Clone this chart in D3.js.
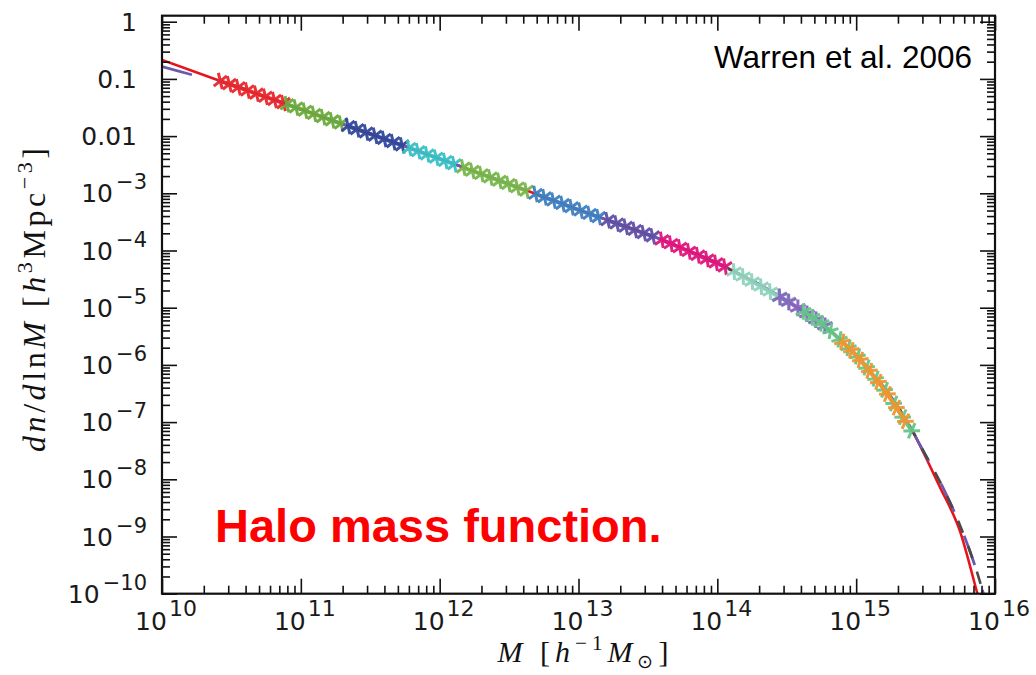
<!DOCTYPE html>
<html>
<head>
<meta charset="utf-8">
<script src="https://cdn.jsdelivr.net/npm/d3@7"></script>
<style>
  body { margin: 0; background: #fff; }
  svg { display: block; }
</style>
</head>
<body>
<svg id="chart" width="1036" height="675"></svg>
<script>
// Values: log10 M [h^-1 Msun] and log10 dn/dlnM [h^3 Mpc^-3]

// Warren et al. fit (solid red)
const fitLogM = [10.0, 10.42, 10.99, 11.5, 12.04, 12.69, 13.05, 13.57, 14.07, 14.52, 14.77, 15.0, 15.2, 15.41, 15.6, 15.75, 15.87, 15.93];
const fitLogN = [-0.668, -1.035, -1.524, -1.96, -2.431, -3.007, -3.33, -3.784, -4.298, -4.909, -5.31, -5.834, -6.41, -7.178, -8.121, -8.923, -9.97, -10.5];

// second fit (purple long dash)
const altLogM = [10.0, 10.22, 10.42, 10.99, 11.5, 12.04, 12.69, 13.05, 13.57, 14.07, 14.52, 14.77, 15.0, 15.2, 15.41, 15.46, 15.62, 15.73, 15.87, 15.94];
const altLogN = [-0.785, -0.93, -1.045, -1.524, -1.96, -2.431, -3.007, -3.33, -3.784, -4.298, -4.909, -5.31, -5.83, -6.39, -7.17, -7.4, -8.12, -8.7, -9.62, -10.2];

// third curve (black short dash), only seen in the tail
const dashLogM = [13.9, 14.52, 15.0, 15.2, 15.41, 15.46, 15.62, 15.73, 15.87, 15.94];
const dashLogN = [-4.124, -4.909, -5.83, -6.39, -7.17, -7.4, -8.12, -8.7, -9.62, -10.2];

// simulation boxes, one colour each
const simColors = ['#e8262c', '#6aab3c', '#30479b', '#37c0c6', '#77b74b', '#3e7fc0',
                   '#5f50a6', '#e0157d', '#8ed3bd', '#8466c0', '#66c68a', '#f29530'];
const simLogM = [
  [10.42, 10.485, 10.55, 10.615, 10.68, 10.745, 10.81, 10.875],
  [10.9, 10.965, 11.03, 11.095, 11.16, 11.225, 11.29],
  [11.34, 11.405, 11.47, 11.535, 11.6, 11.665, 11.73],
  [11.78, 11.845, 11.91, 11.975, 12.04, 12.105],
  [12.17, 12.235, 12.3, 12.365, 12.43, 12.495, 12.56, 12.625],
  [12.69, 12.755, 12.82, 12.885, 12.95, 13.015, 13.08, 13.145],
  [13.21, 13.275, 13.34, 13.405, 13.47, 13.535],
  [13.6, 13.665, 13.73, 13.795, 13.86, 13.925, 13.99, 14.055],
  [14.12, 14.185, 14.25, 14.315, 14.38, 14.445, 14.51],
  [14.45, 14.515, 14.58, 14.645, 14.71, 14.775],
  [14.62, 14.685, 14.75, 14.815, 14.88, 14.945, 15.01, 15.075, 15.14, 15.205, 15.27, 15.335, 15.4],
  [14.9, 14.965, 15.03, 15.095, 15.16, 15.225, 15.29, 15.355]
];
const simLogN = [
  [-1.037, -1.092, -1.147, -1.202, -1.258, -1.313, -1.368, -1.423],
  [-1.444, -1.499, -1.555, -1.612, -1.668, -1.725, -1.781],
  [-1.824, -1.88, -1.937, -1.993, -2.05, -2.106, -2.163],
  [-2.207, -2.263, -2.32, -2.377, -2.434, -2.491],
  [-2.549, -2.607, -2.665, -2.723, -2.78, -2.838, -2.896, -2.954],
  [-3.011, -3.07, -3.128, -3.186, -3.245, -3.303, -3.36, -3.416],
  [-3.472, -3.528, -3.585, -3.641, -3.697, -3.753],
  [-3.814, -3.881, -3.948, -4.016, -4.083, -4.15, -4.217, -4.285],
  [-4.368, -4.456, -4.544, -4.631, -4.719, -4.807, -4.894],
  [-4.813, -4.901, -5.003, -5.106, -5.21, -5.315],
  [-5.066, -5.17, -5.273, -5.405, -5.553, -5.7, -5.852, -6.045, -6.238, -6.436, -6.674, -6.913, -7.152],
  [-5.598, -5.745, -5.911, -6.104, -6.297, -6.509, -6.747, -6.986]
];

// axis ticks
const xTickExps = [10, 11, 12, 13, 14, 15, 16];
const yTickValues = [1, 0.1, 0.01, 1e-3, 1e-4, 1e-5, 1e-6, 1e-7, 1e-8, 1e-9, 1e-10];
const yTickLabels = [['1', ''], ['0.1', ''], ['0.01', ''], ['10', '\u22123'], ['10', '\u22124'], ['10', '\u22125'],
                     ['10', '\u22126'], ['10', '\u22127'], ['10', '\u22128'], ['10', '\u22129'], ['10', '\u221210']];

const svg = d3.select('#chart');
const plotL = 162, plotR = 995, plotT = 15.7, plotB = 593.7;

const x = d3.scaleLog().domain([1e10, 1e16]).range([plotL, plotR]);
const y = d3.scaleLog().domain([1e-10, Math.pow(10, 0.105)]).range([plotB, plotT]);

svg.append('defs').append('clipPath').attr('id', 'plotclip')
  .append('rect').attr('x', plotL).attr('y', plotT).attr('width', plotR - plotL).attr('height', plotB - plotT);

const plot = svg.append('g').attr('clip-path', 'url(#plotclip)');

const line = d3.line()
  .x(d => x(Math.pow(10, d[0])))
  .y(d => y(Math.pow(10, d[1])))
  .curve(d3.curveMonotoneX);

const zip = (a, b) => a.map((v, i) => [v, b[i]]);

// fit curves
plot.append('path').datum(zip(fitLogM, fitLogN))
  .attr('d', line).attr('fill', 'none')
  .attr('stroke', '#e8141c').attr('stroke-width', 2.6);

plot.append('path').datum(zip(altLogM, altLogN))
  .attr('d', line).attr('fill', 'none')
  .attr('stroke', '#6a5aae').attr('stroke-width', 2.8)
  .attr('stroke-dasharray', '31,26');

plot.append('path').datum(zip(dashLogM, dashLogN))
  .attr('d', line).attr('fill', 'none')
  .attr('stroke', '#4a4a4a').attr('stroke-width', 2.6)
  .attr('stroke-dasharray', '13,14');

// simulation points: crosses strung along the curve
simColors.forEach((col, s) => {
  const pts = zip(simLogM[s], simLogN[s]).map(d => [x(Math.pow(10, d[0])), y(Math.pow(10, d[1]))]);
  const g = plot.append('g').attr('stroke', col).attr('fill', 'none').attr('opacity', 0.95);

  g.append('path')
    .attr('d', d3.line()(pts))
    .attr('stroke-width', 4);

  pts.forEach((p, i) => {
    const a = pts[Math.max(0, i - 1)], b = pts[Math.min(pts.length - 1, i + 1)];
    const ang = Math.atan2(b[1] - a[1], b[0] - a[0]) * 180 / Math.PI;
    g.append('path')
      .attr('transform', `translate(${p[0]},${p[1]}) rotate(${ang})`)
      .attr('d', 'M-4.5,-7L4.5,7M-4.5,7L4.5,-7')
      .attr('stroke-width', 3)
      .attr('stroke-linecap', 'butt');
  });
});

// axes: ticks on all four sides, pointing inward
const majorX = xTickExps.map(e => Math.pow(10, e));
const minorX = [];
xTickExps.slice(0, -1).forEach(e => { for (let k = 2; k <= 9; k++) minorX.push(k * Math.pow(10, e)); });
const majorY = yTickValues;
const minorY = [];
for (let e = -10; e < 0; e++) for (let k = 2; k <= 9; k++) minorY.push(k * Math.pow(10, e));

function drawAxis(axisFn, scale, values, size, transform) {
  const g = svg.append('g').attr('transform', transform)
    .call(axisFn(scale).tickValues(values).tickSize(-size).tickFormat(''));
  g.select('.domain').remove();
  g.selectAll('.tick line').attr('stroke', '#111').attr('stroke-width', 1.6);
}

drawAxis(d3.axisBottom, x, majorX, 15, `translate(0,${plotB})`);
drawAxis(d3.axisBottom, x, minorX, 8, `translate(0,${plotB})`);
drawAxis(d3.axisTop, x, majorX, 15, `translate(0,${plotT})`);
drawAxis(d3.axisTop, x, minorX, 8, `translate(0,${plotT})`);
drawAxis(d3.axisLeft, y, majorY, 15, `translate(${plotL},0)`);
drawAxis(d3.axisLeft, y, minorY, 8, `translate(${plotL},0)`);
drawAxis(d3.axisRight, y, majorY, 15, `translate(${plotR},0)`);
drawAxis(d3.axisRight, y, minorY, 8, `translate(${plotR},0)`);

svg.append('rect')
  .attr('x', plotL).attr('y', plotT).attr('width', plotR - plotL).attr('height', plotB - plotT)
  .attr('fill', 'none').attr('stroke', '#111').attr('stroke-width', 2.2);

// tick labels
const tickFont = 'DejaVu Sans, sans-serif';

yTickValues.forEach((v, i) => {
  const [base, sup] = yTickLabels[i];
  const t = svg.append('text')
    .attr('x', sup ? 147 : 137)
    .attr('y', y(v) + 9)
    .attr('text-anchor', 'end')
    .attr('font-family', tickFont)
    .attr('font-size', 25)
    .attr('fill', '#1a1a1a');
  t.append('tspan').text(base);
  if (sup) t.append('tspan').attr('dx', 3).attr('dy', -13).attr('font-size', 21).text(sup);
});

xTickExps.forEach(e => {
  const t = svg.append('text')
    .attr('x', x(Math.pow(10, e)) + 4)
    .attr('y', 630)
    .attr('text-anchor', 'middle')
    .attr('font-family', tickFont)
    .attr('font-size', 25)
    .attr('fill', '#1a1a1a');
  t.append('tspan').text('10');
  t.append('tspan').attr('dx', 2).attr('dy', -14).attr('font-size', 22).text(String(e));
});

// axis titles
const titleFont = 'Liberation Serif, serif';

const xt = svg.append('text')
  .attr('x', 583).attr('y', 662)
  .attr('text-anchor', 'middle')
  .attr('font-family', titleFont).attr('font-size', 30).attr('fill', '#111')
  .attr('textLength', 171).attr('lengthAdjust', 'spacing');
xt.append('tspan').attr('font-style', 'italic').text('M');
xt.append('tspan').text(' [');
xt.append('tspan').attr('font-style', 'italic').text('h');
xt.append('tspan').attr('dy', -12).attr('font-size', 21).text('\u22121');
xt.append('tspan').attr('dy', 12).attr('font-style', 'italic').text('M');
xt.append('tspan').attr('dy', 6).attr('font-size', 19).text('\u2299');
xt.append('tspan').attr('dy', -6).text(']');

const yt = svg.append('text')
  .attr('transform', 'translate(45,300) rotate(-90)')
  .attr('text-anchor', 'middle')
  .attr('font-family', titleFont).attr('font-size', 32).attr('fill', '#111')
  .attr('textLength', 304).attr('lengthAdjust', 'spacing');
yt.append('tspan').attr('font-style', 'italic').text('dn');
yt.append('tspan').text('/');
yt.append('tspan').attr('font-style', 'italic').text('d');
yt.append('tspan').text('ln');
yt.append('tspan').attr('font-style', 'italic').text('M');
yt.append('tspan').text(' [');
yt.append('tspan').attr('font-style', 'italic').text('h');
yt.append('tspan').attr('dy', -13).attr('font-size', 22).text('3');
yt.append('tspan').attr('dy', 13).text('Mpc');
yt.append('tspan').attr('dy', -13).attr('font-size', 22).text('\u22123');
yt.append('tspan').attr('dy', 13).text(']');

// annotations
svg.append('text')
  .attr('x', 972).attr('y', 68)
  .attr('text-anchor', 'end')
  .attr('font-family', 'Liberation Sans, Arial, sans-serif')
  .attr('font-size', 31.5).attr('fill', '#000')
  .text('Warren et al. 2006');

svg.append('text')
  .attr('x', 215).attr('y', 542)
  .attr('font-family', 'Liberation Sans, Arial, sans-serif')
  .attr('font-size', 47).attr('font-weight', 'bold').attr('fill', '#ff0000')
  .text('Halo mass function.');
</script>
</body>
</html>
